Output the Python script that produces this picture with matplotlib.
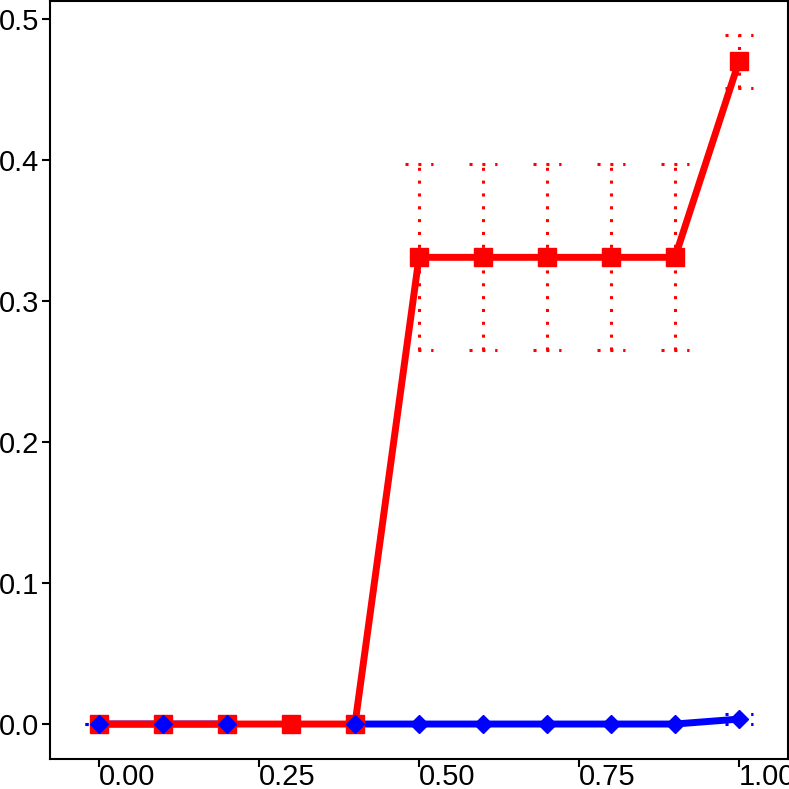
import numpy as np
import matplotlib
matplotlib.use("Agg")
from matplotlib import pyplot as plt

plt.rcParams['font.family'] = ['Liberation Sans', 'DejaVu Sans']

# data
xs = [0.0, 0.1, 0.2, 0.3, 0.4, 0.5, 0.6, 0.7, 0.8, 0.9, 1.0]
red_y = [0, 0, 0, 0, 0, 0.331, 0.331, 0.331, 0.331, 0.331, 0.470]
red_err = [np.nan] * 5 + [0.066] * 5 + [0.019]
blue_y = [0, 0, 0, np.nan, 0, 0, 0, 0, 0, 0, 0.0035]
blue_err = [0, 0, 0, np.nan, 0] + [np.nan] * 5 + [0.0033]

xticks = [0.0, 0.25, 0.5, 0.75, 1.0]
xticklabels = ['0.00', '0.25', '0.50', '0.75', '1.00']
yticks = [0.0, 0.1, 0.2, 0.3, 0.4, 0.5]
yticklabels = ['0.0', '0.1', '0.2', '0.3', '0.4', '0.5']

fig = plt.figure(figsize=(7.89, 7.89), dpi=100)
ax = fig.add_axes([50 / 789, 30 / 789, 738 / 789, 758 / 789])

dots = (0, (1, 3.2))
cap = 0.0225


def errbars(y, err, color, z):
    for x, v, e in zip(xs, y, err):
        if np.isnan(v) or np.isnan(e):
            continue
        if e > 0:
            ax.vlines(x, v - e, v + e, colors=color, linewidth=2.2,
                      linestyles=dots, zorder=z)
        for yy in (v - e, v + e):
            ax.hlines(yy, x - cap, x + cap, colors=color, linewidth=2.2,
                      linestyles=dots, zorder=z)


errbars(red_y, red_err, 'red', 1)
errbars(blue_y, blue_err, 'blue', 1)

ax.plot(xs, blue_y, color='blue', linewidth=5, zorder=2)
ax.plot(xs, red_y, color='red', linewidth=5, zorder=3)
ax.plot(xs, red_y, linestyle='none', marker='s', markersize=13,
        color='red', zorder=4)
ax.plot(xs, blue_y, linestyle='none', marker='D', markersize=9,
        color='blue', zorder=5)

ax.set_xlim(-0.0766, 1.0766)
ax.set_ylim(-0.0248, 0.5128)
ax.set_xticks(xticks)
ax.set_xticklabels(xticklabels, ha='left')
ax.set_yticks(yticks)
ax.set_yticklabels(yticklabels)
ax.tick_params(axis='both', length=6, width=1.5, labelsize=21,
               colors='black')
ax.tick_params(axis='x', pad=-3)
ax.tick_params(axis='y', pad=2)
for s in ax.spines.values():
    s.set_linewidth(1.5)

fig.savefig('out.png', dpi=100)
